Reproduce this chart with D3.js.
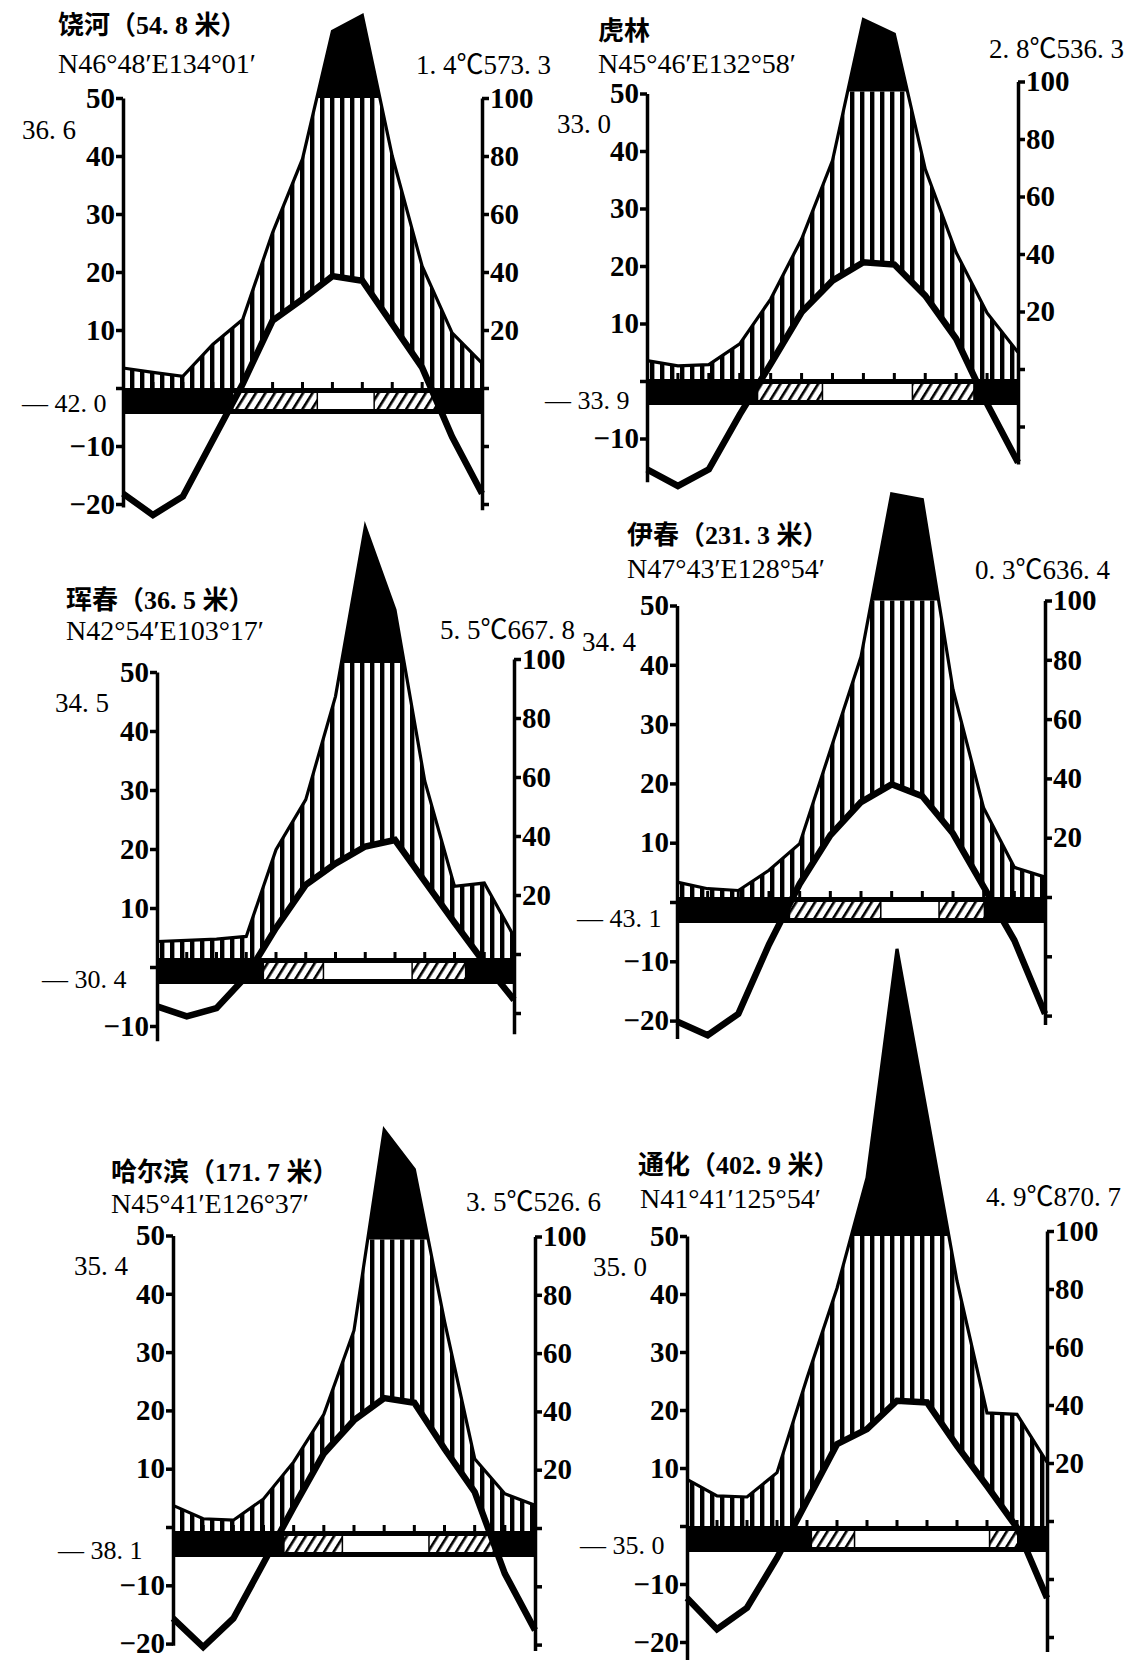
<!doctype html>
<html>
<head>
<meta charset="utf-8">
<title>东北地区气候图</title>
<style>
  body { margin: 0; background: #fff; }
  svg text { font-family: "Liberation Serif", "Noto Sans CJK SC", serif; fill: #000; }
</style>
</head>
<body>
<svg width="1126" height="1660"></svg>
<script src="https://d3js.org/d3.v7.min.js"></script>
<script>
// Station labels, as printed on each diagram.
var names = ['饶河（54. 8 米）', '虎林', '珲春（36. 5 米）', '伊春（231. 3 米）', '哈尔滨（171. 7 米）', '通化（402. 9 米）'];
var coords = ['N46°48′E134°01′', 'N45°46′E132°58′', 'N42°54′E103°17′', 'N47°43′E128°54′', 'N45°41′E126°37′', 'N41°41′125°54′'];
var annual = ['1. 4℃573. 3', '2. 8℃536. 3', '5. 5℃667. 8', '0. 3℃636. 4', '3. 5℃526. 6', '4. 9℃870. 7'];
var absMax = ['36. 6', '33. 0', '34. 5', '34. 4', '35. 4', '35. 0'];
var absMin = ['— 42. 0', '— 33. 9', '— 30. 4', '— 43. 1', '— 38. 1', '— 35. 0'];

// Points run from the previous December, then January .. December.
var months = ['12', '1', '2', '3', '4', '5', '6', '7', '8', '9', '10', '11', '12'];

// Monthly mean temperature (°C).
var tempRaohe  = [-18.2, -21.9, -18.7, -9.0, 0.7, 11.6, 15.3, 19.3, 18.5, 11.0, 3.5, -8.4, -18.2];
var tempHulin  = [-15.7, -18.6, -15.7, -6.2, 2.6, 11.6, 17.1, 20.3, 19.9, 14.5, 7.0, -4.3, -14.5];
var tempHunchun= [-8.2, -9.9, -8.5, -3.1, 5.1, 12.4, 16.0, 18.9, 20.0, 13.0, 6.0, -0.8, -7.1];
var tempYichun = [-21.0, -23.3, -19.7, -8.0, 2.2, 10.4, 16.0, 19.0, 17.0, 10.7, 1.7, -7.3, -19.7];
var tempHarbin = [-15.0, -19.9, -15.0, -5.5, 4.1, 13.3, 19.0, 22.8, 22.0, 14.1, 6.7, -7.3, -17.0];
var tempTonghua= [-12.4, -17.8, -14.1, -5.5, 4.3, 14.1, 16.7, 21.6, 21.3, 13.8, 6.9, -0.3, -12.4];

// Monthly precipitation (mm).
var precRaohe  = [6.9, 5.4, 4.0, 15, 23.6, 53.6, 79, 123, 128.5, 80, 42, 19, 8.6];
var precHulin  = [6.4, 4.6, 5.0, 12.2, 27.8, 48.7, 76, 125, 120, 73, 44, 23, 9.3];
var precHunchun= [5.6, 6.0, 6.4, 7.3, 36.7, 53.7, 88.7, 146, 118, 60, 24.3, 25.4, 7.3];
var precYichun = [5.0, 2.8, 2.2, 9.0, 18, 49.5, 81, 136, 134, 70, 30, 10, 6.7];
var precHarbin = [8.8, 4.2, 3.7, 11, 23.7, 40, 68.8, 137.6, 124, 72, 24.8, 12.8, 8.8];
var precTonghua= [16.1, 10.4, 10.0, 18.4, 51, 82, 120, 199, 142, 84.5, 39, 38.5, 22];

// Frost bar, in month positions: [hatched from, frost-free from, frost-free to, hatched to].
var frostRaohe  = [3.69, 6.47, 8.37, 10.43];
var frostHulin  = [3.6, 5.65, 8.56, 10.55];
var frostHunchun= [3.6, 5.57, 8.55, 10.35];
var frostYichun = [3.69, 6.62, 8.52, 10.0];
var frostHarbin = [3.7, 5.59, 8.46, 10.6];
var frostTonghua= [4.17, 5.56, 10.06, 11.0];

var leftTicks = [50, 40, 30, 20, 10, 0, -10, -20];
var rightTicks = [100, 80, 60, 40, 20, 0, -20, -40];

var temps = [tempRaohe, tempHulin, tempHunchun, tempYichun, tempHarbin, tempTonghua];
var precs = [precRaohe, precHulin, precHunchun, precYichun, precHarbin, precTonghua];
var frosts = [frostRaohe, frostHulin, frostHunchun, frostYichun, frostHarbin, frostTonghua];

// Where each diagram sits on the page.
var layout = [
  {x0: 123, x1: 482, y0: 388, step: 58, lOff: 0, rOff: 0, lMin: -20.5, rMin: -21,
   title: [58, 34], coord: [58, 73], ann: [551, 74], hi: [22, 139], lo: [22, 412]},
  {x0: 647, x1: 1018, y0: 379, step: 57.5, lOff: 2, rOff: -10, lMin: -17.5, rMin: -16.5,
   title: [598, 40], coord: [598, 73], ann: [1124, 58], hi: [557, 133], lo: [545, 409]},
  {x0: 157, x1: 514, y0: 958, step: 59, lOff: 9, rOff: -4, lMin: -12.5, rMin: -13.5,
   title: [66, 609], coord: [66, 640], ann: [575, 639], hi: [55, 712], lo: [42, 988]},
  {x0: 677, x1: 1045, y0: 897, step: 59.3, lOff: 5, rOff: 0, lMin: -23, rMin: -21.5,
   title: [627, 544], coord: [627, 578], ann: [1110, 579], hi: [582, 651], lo: [577, 927]},
  {x0: 173, x1: 535, y0: 1531, step: 58.3, lOff: -4, rOff: -3, lMin: -20.3, rMin: -21,
   title: [111, 1181], coord: [111, 1213], ann: [601, 1211], hi: [74, 1275], lo: [58, 1559]},
  {x0: 687, x1: 1047, y0: 1526, step: 58, lOff: 0, rOff: -5, lMin: -23, rMin: -22.5,
   title: [638, 1174], coord: [640, 1208], ann: [1121, 1206], hi: [593, 1276], lo: [580, 1554]}
];

var BAR_H = 26;

var svg = d3.select('svg');
var defs = svg.append('defs');

// vertical hatching for the humid season
var vp = defs.append('pattern').attr('id', 'vhatch')
  .attr('patternUnits', 'userSpaceOnUse').attr('width', 10).attr('height', 10);
vp.append('rect').attr('width', 4.4).attr('height', 10).attr('fill', '#000');

// slanted hatching for months with frost risk
var dp = defs.append('pattern').attr('id', 'dhatch')
  .attr('patternUnits', 'userSpaceOnUse').attr('width', 8).attr('height', 8)
  .attr('patternTransform', 'rotate(32)');
dp.append('rect').attr('width', 8).attr('height', 8).attr('fill', '#fff');
dp.append('rect').attr('width', 2.6).attr('height', 8).attr('fill', '#000');

function styleAxis(g) {
  g.attr('font-family', null).attr('font-size', null);
  g.select('.domain').attr('stroke-width', 3.5);
  g.selectAll('.tick line').attr('stroke-width', 3.5);
  g.selectAll('.tick text').attr('font-size', 29).attr('font-weight', 'bold');
}

layout.forEach(function(L, k) {
  var t = temps[k], p = precs[k], f = frosts[k];
  var g = svg.append('g');

  var x = d3.scaleLinear().domain([0, months.length - 1]).range([L.x0, L.x1]);
  var yT = d3.scaleLinear().domain([0, 50]).range([L.y0, L.y0 - 5 * L.step]);
  var yP = d3.scaleLinear().domain([0, 100]).range([L.y0, L.y0 - 5 * L.step]);

  // clip regions
  defs.append('clipPath').attr('id', 'over' + k).append('rect')
    .attr('x', L.x0 - 4).attr('y', 0)
    .attr('width', L.x1 - L.x0 + 8).attr('height', yP(100));
  defs.append('clipPath').attr('id', 'under' + k).append('rect')
    .attr('x', L.x0).attr('y', yP(100))
    .attr('width', L.x1 - L.x0).attr('height', L.y0 - yP(100));
  defs.append('clipPath').attr('id', 'warm' + k).append('path')
    .attr('d', d3.area().x(function(d, i) { return x(i); })
      .y0(0).y1(function(d) { return yT(d); })(t));

  var precArea = d3.area()
    .x(function(d, i) { return x(i); })
    .y0(L.y0)
    .y1(function(d) { return yP(d); });

  // humid season, vertical lines
  g.append('g').attr('clip-path', 'url(#under' + k + ')')
    .append('path')
    .attr('d', precArea(p))
    .attr('fill', 'url(#vhatch)')
    .attr('clip-path', 'url(#warm' + k + ')');

  // precipitation above 100 mm, solid
  g.append('path')
    .attr('d', precArea(p))
    .attr('fill', '#000')
    .attr('clip-path', 'url(#over' + k + ')');

  // precipitation outline
  g.append('path')
    .attr('d', d3.line().x(function(d, i) { return x(i); }).y(function(d) { return yP(d); })(p))
    .attr('fill', 'none').attr('stroke', '#000').attr('stroke-width', 3.2)
    .attr('stroke-linejoin', 'miter');

  // frost bar
  g.append('rect')
    .attr('x', L.x0).attr('y', L.y0)
    .attr('width', L.x1 - L.x0).attr('height', BAR_H)
    .attr('fill', '#000');
  var segs = [
    {a: f[0], b: f[1], fill: 'url(#dhatch)'},
    {a: f[1] + 0.05, b: f[2], fill: '#fff'},
    {a: f[2] + 0.05, b: f[3], fill: 'url(#dhatch)'}
  ];
  g.selectAll('.seg').data(segs).enter().append('rect')
    .attr('x', function(d) { return x(d.a); })
    .attr('y', L.y0 + 5)
    .attr('width', function(d) { return x(d.b) - x(d.a); })
    .attr('height', BAR_H - 10)
    .attr('fill', function(d) { return d.fill; });

  // month marks on top of the bar
  g.selectAll('.mtick').data(months.slice(1, -1)).enter().append('rect')
    .attr('x', function(d, i) { return x(i + 1) - 1.5; })
    .attr('y', L.y0 - 6).attr('width', 3).attr('height', 6)
    .attr('fill', '#000');

  // axes
  var yTa = d3.scaleLinear().domain([L.lMin, 50])
    .range([L.y0 + L.lOff - L.lMin / 10 * L.step, L.y0 + L.lOff - 5 * L.step]);
  var yPa = d3.scaleLinear().domain([L.rMin * 2, 100])
    .range([L.y0 + L.rOff - L.rMin / 10 * L.step, L.y0 + L.rOff - 5 * L.step]);

  var gl = g.append('g').attr('transform', 'translate(' + L.x0 + ',0)')
    .call(d3.axisLeft(yTa)
      .tickValues(leftTicks.filter(function(d) { return d >= L.lMin; }))
      .tickSize(7).tickSizeOuter(0).tickPadding(1)
      .tickFormat(function(d) { return d === 0 ? '' : (d < 0 ? '−' + (-d) : d); }));
  styleAxis(gl);

  var gr = g.append('g').attr('transform', 'translate(' + L.x1 + ',0)')
    .call(d3.axisRight(yPa)
      .tickValues(rightTicks.filter(function(d) { return d >= L.rMin * 2; }))
      .tickSize(7).tickSizeOuter(0).tickPadding(1)
      .tickFormat(function(d) { return d > 0 ? d : ''; }));
  styleAxis(gr);

  // temperature curve
  g.append('path')
    .attr('d', d3.line().x(function(d, i) { return x(i); }).y(function(d) { return yT(d); })(t))
    .attr('fill', 'none').attr('stroke', '#000').attr('stroke-width', 6.5)
    .attr('stroke-linejoin', 'miter');

  // texts
  g.append('text').attr('x', L.title[0]).attr('y', L.title[1])
    .attr('font-size', 26).attr('font-weight', 'bold').text(names[k]);
  g.append('text').attr('x', L.coord[0]).attr('y', L.coord[1])
    .attr('font-size', 28).text(coords[k]);
  g.append('text').attr('x', L.ann[0]).attr('y', L.ann[1])
    .attr('font-size', 27).attr('text-anchor', 'end').text(annual[k]);
  g.append('text').attr('x', L.hi[0]).attr('y', L.hi[1])
    .attr('font-size', 27).text(absMax[k]);
  g.append('text').attr('x', L.lo[0]).attr('y', L.lo[1])
    .attr('font-size', 26).text(absMin[k]);
});
</script>
</body>
</html>
